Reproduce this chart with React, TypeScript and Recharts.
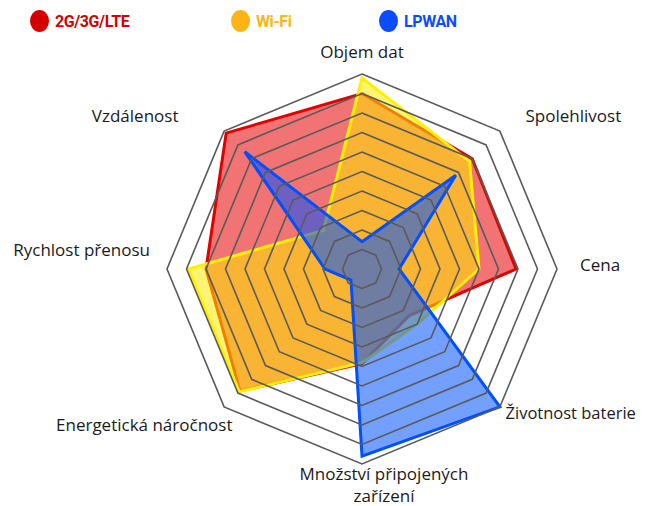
import { PolarAngleAxis, PolarGrid, PolarRadiusAxis, Radar, RadarChart, Legend } from "recharts";

// axis categories (clockwise from the top)
const AXES = [
  "Objem dat",
  "Spolehlivost",
  "Cena",
  "Životnost baterie",
  "Množství připojených\nzařízení",
  "Energetická náročnost",
  "Rychlost přenosu",
  "Vzdálenost",
];

const CELLULAR = [9.0, 8.0, 7.9, 3.4, 4.85, 8.85, 8.0, 9.85];
const WIFI = [9.8, 7.8, 6.0, 4.0, 4.8, 8.9, 8.9, 2.8];
const LPWAN = [1.4, 6.8, 1.9, 10, 9.6, 0.8, 1.9, 8.5];

const RING_LEVELS = [1, 2, 3, 4, 5, 6, 7, 8, 9, 10];
const MAX_VALUE = 10;

const SERIES = [
  { key: "cellular", name: "2G/3G/LTE", stroke: "#E00000", fill: "#E60000", legend: "#D40000" },
  { key: "wifi", name: "Wi-Fi", stroke: "#FFF000", fill: "#FFEA00", legend: "#FDB515" },
  { key: "lpwan", name: "LPWAN", stroke: "#0050FF", fill: "#0050FF", legend: "#0A4CFF" },
];

const data = AXES.map((subject, i) => ({
  subject,
  cellular: CELLULAR[i],
  wifi: WIFI[i],
  lpwan: LPWAN[i],
}));

const WIDTH = 637;
const HEIGHT = 498;
const CX = 354;
const CY = 261;
const OUTER = 195;

const LABEL_FONT = "'Open Sans', sans-serif";

// label nudges relative to the tick point
const LABEL_LAYOUT = [
  { dx: 0, dy: -14, anchor: "middle" },
  { dx: 20, dy: -9, anchor: "start" },
  { dx: 15, dy: -4, anchor: "start" },
  { dx: 0, dy: 1, anchor: "start", size: 16.5 },
  { dx: 22, dy: 2, anchor: "middle" },
  { dx: 14, dy: 13, anchor: "end" },
  { dx: -9, dy: -19, anchor: "end" },
  { dx: -40, dy: -9, anchor: "end" },
];

function AxisTick(props: any) {
  const { x, y, payload } = props;
  const i = AXES.indexOf(payload.value);
  const lay: any = LABEL_LAYOUT[i] ?? { dx: 0, dy: 0, anchor: "middle" };
  const lines = String(payload.value).split("\n");
  const tx = x + lay.dx;
  return (
    <text
      x={tx}
      y={y + lay.dy}
      textAnchor={lay.anchor}
      fontFamily={LABEL_FONT}
      fontSize={lay.size ?? 17}
      fill="#1a1a1a"
    >
      {lines.map((line, k) => (
        <tspan key={k} x={tx} dy={k === 0 ? "0.35em" : 22}>
          {line}
        </tspan>
      ))}
    </text>
  );
}

const LEGEND_X = [22, 223, 371];

function LegendContent() {
  return (
    <div style={{ position: "relative", width: WIDTH, height: 30 }}>
      {SERIES.map((s, i) => (
        <div
          key={s.key}
          style={{
            position: "absolute",
            left: LEGEND_X[i],
            top: 2,
            display: "flex",
            alignItems: "center",
            gap: 6,
          }}
        >
          <span
            style={{ display: "inline-block", width: 19, height: 22, borderRadius: "50%", background: s.legend }}
          />
          <span
            style={{
              fontFamily: "Roboto, sans-serif",
              fontWeight: 700,
              fontSize: 16,
              letterSpacing: -0.4,
              color: s.legend,
            }}
          >
            {s.name}
          </span>
        </div>
      ))}
    </div>
  );
}

const gridRadii = RING_LEVELS.map((l) => (OUTER * l) / MAX_VALUE);

// the rings sit on top of the filled areas, so they get their own chart layer
function GridOverlay() {
  return (
    <div style={{ position: "absolute", left: 0, top: 0, pointerEvents: "none" }}>
      <RadarChart
        width={WIDTH}
        height={HEIGHT}
        data={data}
        cx={CX}
        cy={CY}
        outerRadius={OUTER}
        margin={{ top: 0, right: 0, bottom: 0, left: 0 }}
      >
        <PolarGrid
          gridType="polygon"
          radialLines={false}
          polarRadius={gridRadii}
          stroke="#5a5a5a"
          strokeWidth={1.6}
        />
        <PolarRadiusAxis domain={[0, MAX_VALUE]} tick={false} axisLine={false} />
        <PolarAngleAxis dataKey="subject" tick={false} tickLine={false} axisLine={false} />
      </RadarChart>
    </div>
  );
}

export default function App() {
  return (
    <div style={{ position: "relative", width: WIDTH, height: HEIGHT }}>
      <style>{".recharts-surface { overflow: visible; }"}</style>
      <RadarChart
        width={WIDTH}
        height={HEIGHT}
        data={data}
        cx={CX}
        cy={CY}
        outerRadius={OUTER}
        margin={{ top: 0, right: 0, bottom: 0, left: 0 }}
      >
        <PolarRadiusAxis domain={[0, MAX_VALUE]} tick={false} axisLine={false} />
        <PolarAngleAxis dataKey="subject" tick={<AxisTick />} tickLine={false} axisLine={false} />
        {SERIES.map((s) => (
          <Radar
            key={s.key}
            name={s.name}
            dataKey={s.key}
            stroke={s.stroke}
            strokeWidth={3}
            strokeLinejoin="miter"
            fill={s.fill}
            fillOpacity={0.55}
            dot={false}
            isAnimationActive={false}
          />
        ))}
        <Legend
          layout="horizontal"
          verticalAlign="middle"
          align="center"
          wrapperStyle={{ top: 0, left: 0 }}
          content={<LegendContent />}
        />
      </RadarChart>
      <GridOverlay />
    </div>
  );
}
